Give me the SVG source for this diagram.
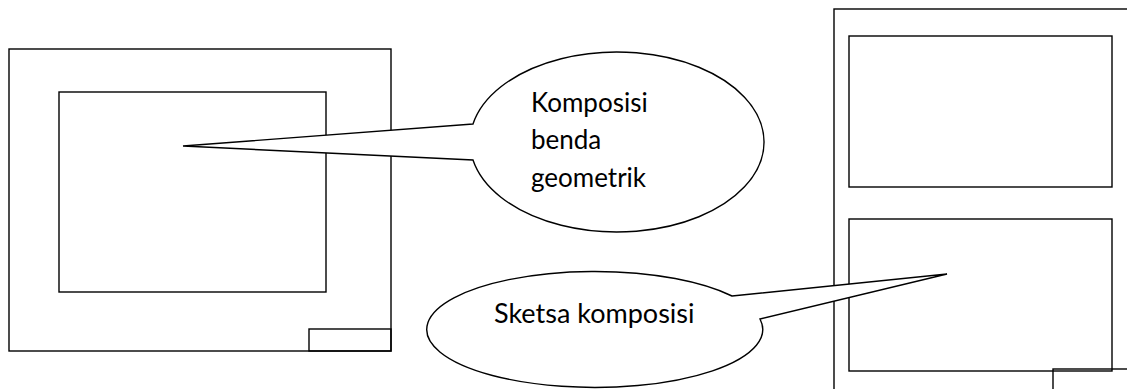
<svg xmlns="http://www.w3.org/2000/svg" width="1127" height="389" viewBox="0 0 1127 389">
<style>
.s{fill:none;stroke:#000;stroke-width:1.4}
.c{fill:#fff;stroke:#000;stroke-width:1.4;stroke-linejoin:miter}
.t{font-family:Lato,"Open Sans",sans-serif;font-size:26px;fill:#000}
</style>
<rect width="1127" height="389" fill="#fff"/>
<g id="frame-left">
<rect class="s" x="9" y="49" width="382" height="302"/>
<rect class="s" x="59" y="92" width="267" height="200"/>
<rect class="s" x="309" y="329" width="82" height="22"/>
</g>
<g id="frame-right">
<rect class="s" x="834" y="9" width="310" height="400"/>
<rect class="s" x="849" y="36" width="263" height="151"/>
<rect class="s" x="849" y="219" width="263" height="152"/>
<rect class="s" x="1053" y="369" width="90" height="40"/>
</g>
<g id="connectors">
<path id="callout-1" class="c" d="M 473 124 L 183 146 L 473 160 A 147 90 0 1 0 473 124 Z"/>
<path id="callout-2" class="c" d="M 732 296 L 947 274 L 760 319 A 168 58 0 1 1 732 296 Z"/>
</g>
<g id="label-1">
<text class="t" x="531" y="112">Komposisi</text>
<text class="t" x="531" y="149">benda</text>
<text class="t" x="531" y="187">geometrik</text>
</g>
<g id="label-2">
<text class="t" x="494" y="323" style="font-size:27px">Sketsa komposisi</text>
</g>
</svg>
